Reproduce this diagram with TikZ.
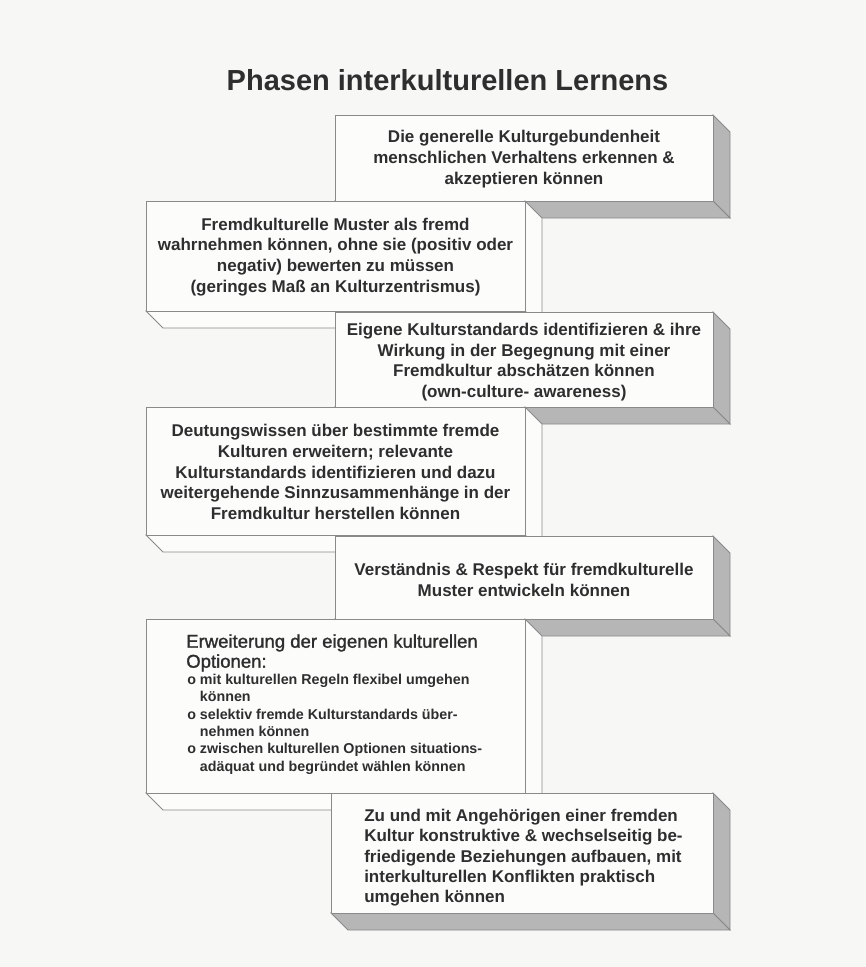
\documentclass[tikz,border=0pt]{standalone}
\usepackage{fontspec}
\setmainfont{Liberation Sans}
\newfontfamily\medfont[FakeBold=1.4]{Liberation Sans}
\usetikzlibrary{calc}

\definecolor{paper}{HTML}{F7F7F5}
\definecolor{face}{HTML}{FCFCFB}
\definecolor{edge}{HTML}{8A8A8A}
\definecolor{shade}{HTML}{B6B6B6}
\definecolor{ink}{HTML}{2E2E2E}

% A slab: front face (x1,y1)-(x2,y2) with depth 17 towards the lower right
\newcommand{\slab}[5]{%
  \filldraw[slabedge, fill=#5] (#3,#2) -- (#3+17,#2+17) -- (#3+17,#4+17) -- (#3,#4) -- cycle;
  \filldraw[slabedge, fill=#5] (#1,#4) -- (#3,#4) -- (#3+17,#4+17) -- (#1+17,#4+17) -- cycle;
  \filldraw[slabedge, fill=face] (#1,#2) rectangle (#3,#4);
}

\begin{document}
\begin{tikzpicture}[x=0.75pt, y=-0.75pt,
  slabedge/.style={draw=edge, line width=0.6pt, line join=miter},
  heading/.style={font=\fontsize{21.75}{26}\selectfont\bfseries, text=ink, inner sep=0pt},
  boxtext/.style={font=\fontsize{12.75}{15.6}\selectfont\bfseries, text=ink, align=center, inner sep=0pt},
  lefttext/.style={font=\fontsize{12.75}{15.2}\selectfont\bfseries, text=ink, align=left, inner sep=0pt, anchor=north west},
  optiontitle/.style={font=\fontsize{13.9}{15}\medfont, text=ink, align=left, inner sep=0pt, anchor=north west},
  optionlist/.style={font=\fontsize{10.7}{13.1}\selectfont\bfseries, text=ink, align=left, inner sep=0pt, anchor=north west}]

\fill[paper] (0,0) rectangle (866,967);
\useasboundingbox (0,0) rectangle (866,967);

\node[heading, anchor=base] (title) at (447.5,90) {Phasen interkulturellen Lernens};

% phase 1
\slab{335}{115}{713}{201}{shade}
\node[boxtext] (t1) at (524,159) {Die generelle Kulturgebundenheit\\menschlichen Verhaltens erkennen \&\\akzeptieren können};

% phase 2
\slab{146}{201}{525}{311}{face}
\node[boxtext] (t2) at (335.5,257) {Fremdkulturelle Muster als fremd\\wahrnehmen können, ohne sie (positiv oder\\negativ) bewerten zu müssen\\(geringes Maß an Kulturzentrismus)};

% phase 3
\slab{335}{312}{713}{407}{shade}
\node[boxtext] (t3) at (524,362) {Eigene Kulturstandards identifizieren \& ihre\\Wirkung in der Begegnung mit einer\\Fremdkultur abschätzen können\\(own-culture- awareness)};

% phase 4
\slab{146}{407}{525}{535}{face}
\node[boxtext] (t4) at (335.5,472) {Deutungswissen über bestimmte fremde\\Kulturen erweitern; relevante\\Kulturstandards identifizieren und dazu\\weitergehende Sinnzusammenhänge in der\\Fremdkultur herstellen können};

% phase 5
\slab{335}{536}{713}{619}{shade}
\node[boxtext] (t5) at (524,580) {Verständnis \& Respekt für fremdkulturelle\\Muster entwickeln können};

% phase 6
\slab{146}{619}{525}{793}{face}
\node[optiontitle] (t6) at (186,634) {Erweiterung der eigenen kulturellen\\Optionen:};
\node[optionlist] (t6list) at (187,673.5) {o mit kulturellen Regeln flexibel umgehen\\\hphantom{o\ }können\\o selektiv fremde Kulturstandards über-\\\hphantom{o\ }nehmen können\\o zwischen kulturellen Optionen situations-\\\hphantom{o\ }adäquat und begründet wählen können};

% phase 7
\slab{331}{793}{713}{913}{shade}
\node[lefttext] (t7) at (364,809) {Zu und mit Angehörigen einer fremden\\Kultur konstruktive \& wechselseitig be-\\friedigende Beziehungen aufbauen, mit\\interkulturellen Konflikten praktisch\\umgehen können};

\end{tikzpicture}
\end{document}
